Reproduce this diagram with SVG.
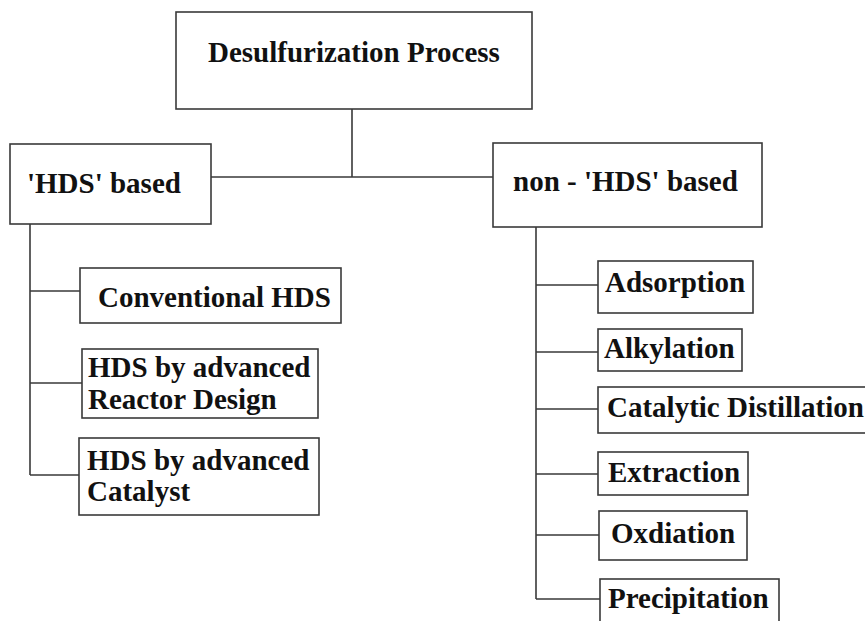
<svg xmlns="http://www.w3.org/2000/svg" width="865" height="621" viewBox="0 0 865 621">
<style>
.box{fill:#fff;stroke:#3a3a3a;stroke-width:1.6}
.ln{fill:none;stroke:#3a3a3a;stroke-width:1.6}
</style>
<rect x="0" y="0" width="865" height="621" fill="#fff"/>
<g id="connectors">
<path class="ln" d="M352,109V177M211,177H493"/>
<path class="ln" d="M30,224V475M30,291H80M30,383H82M30,475H79"/>
<path class="ln" d="M536,227V599M536,285H598M536,352H598M536,409H598M536,474H598M536,535H599M536,599H600"/>
</g>
<g font-family="Liberation Serif, Times New Roman, serif" font-weight="bold" font-size="29" fill="#111">
<g id="root"><rect class="box" x="176" y="12" width="356" height="97"/><text x="208" y="62">Desulfurization Process</text></g>
<g id="hds"><rect class="box" x="10" y="144" width="201" height="80"/><text x="27" y="193">'HDS' based</text></g>
<g id="nonhds"><rect class="box" x="493" y="143" width="269" height="84"/><text x="513" y="191">non - 'HDS' based</text></g>
<g id="conventional"><rect class="box" x="80" y="268" width="261" height="55"/><text x="98" y="307">Conventional HDS</text></g>
<g id="reactor"><rect class="box" x="82" y="349" width="236" height="69"/><text x="88" y="377">HDS by advanced</text><text x="88" y="409">Reactor Design</text></g>
<g id="catalyst"><rect class="box" x="79" y="438" width="240" height="77"/><text x="87" y="470">HDS by advanced</text><text x="87" y="501">Catalyst</text></g>
<g id="adsorption"><rect class="box" x="598" y="261" width="155" height="52"/><text x="605" y="292">Adsorption</text></g>
<g id="alkylation"><rect class="box" x="598" y="329" width="144" height="42"/><text x="604" y="358">Alkylation</text></g>
<g id="catdist"><rect class="box" x="598" y="387" width="290" height="46"/><text x="607" y="417">Catalytic Distillation</text></g>
<g id="extraction"><rect class="box" x="598" y="452" width="150" height="43"/><text x="608" y="482">Extraction</text></g>
<g id="oxdiation"><rect class="box" x="599" y="511" width="148" height="49"/><text x="611" y="543">Oxdiation</text></g>
<g id="precipitation"><rect class="box" x="600" y="579" width="179" height="60"/><text x="608" y="608">Precipitation</text></g>
</g>
</svg>
